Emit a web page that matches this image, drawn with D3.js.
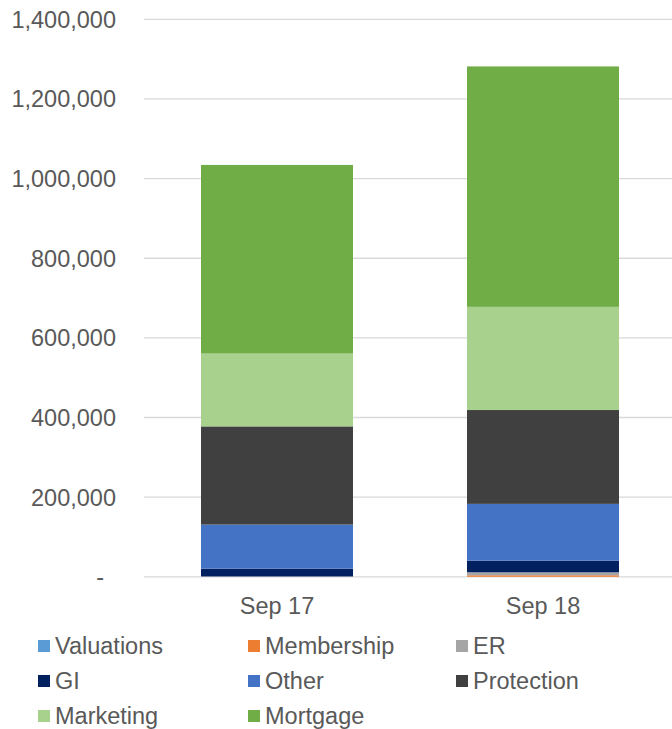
<!DOCTYPE html>
<html>
<head>
<meta charset="utf-8">
<script src="https://cdn.jsdelivr.net/npm/d3@7"></script>
<style>
  html, body { margin: 0; padding: 0; background: #fff; }
  svg { display: block; }
  text { font-family: "Liberation Sans", Arial, sans-serif; fill: #595959; }
</style>
</head>
<body>
<svg id="chart" width="672" height="729"></svg>
<script>
const categories = ["Sep 17", "Sep 18"];
const seriesNames = ["Valuations", "Membership", "ER", "GI", "Other", "Protection", "Marketing", "Mortgage"];
const valuations = [0, 0];
const membership = [0, 3800];
const er = [1000, 7500];
const gi = [19400, 29200];
const other = [110700, 142600];
const protection = [246600, 235700];
const marketing = [182900, 259100];
const mortgage = [473700, 603800];
const colors = ["#5B9BD5", "#ED7D31", "#A5A5A5", "#002060", "#4472C4", "#404040", "#A9D18E", "#70AD47"];
const yTicks = [0, 200000, 400000, 600000, 800000, 1000000, 1200000, 1400000];

const seriesValues = [valuations, membership, er, gi, other, protection, marketing, mortgage];
const table = categories.map((c, i) => {
  const row = { category: c };
  seriesNames.forEach((s, j) => row[s] = seriesValues[j][i]);
  return row;
});

const svg = d3.select("#chart");
const plot = { left: 144, right: 676, top: 19.3, bottom: 576.8 };
const fontSize = 23.5;

const x = d3.scaleBand().domain(categories).range([plot.left, plot.right])
  .paddingInner(0.4286).paddingOuter(0.2143);
const y = d3.scaleLinear().domain([0, 1400000]).range([plot.bottom, plot.top]);

// gridlines
svg.append("g").selectAll("line").data(yTicks).join("line")
  .attr("x1", plot.left).attr("x2", 672)
  .attr("y1", d => y(d)).attr("y2", d => y(d))
  .attr("stroke", "#d9d9d9").attr("stroke-width", 1.3);

// y labels
const fmt = d3.format(",");
svg.append("g").selectAll("text").data(yTicks).join("text")
  .attr("x", d => d === 0 ? 104 : 116)
  .attr("y", d => y(d))
  .attr("dy", "0.36em")
  .attr("text-anchor", "end")
  .attr("font-size", fontSize)
  .text(d => d === 0 ? "-" : fmt(d));

// stacked bars
const stack = d3.stack().keys(seriesNames)(table);
svg.append("g").selectAll("g").data(stack).join("g")
  .attr("fill", (d, i) => colors[i])
  .selectAll("rect").data(d => d).join("rect")
  .attr("x", d => x(d.data.category))
  .attr("width", x.bandwidth())
  .attr("y", d => y(d[1]))
  .attr("height", d => Math.max(0, y(d[0]) - y(d[1])));

// category labels
svg.append("g").selectAll("text").data(categories).join("text")
  .attr("x", d => x(d) + x.bandwidth() / 2)
  .attr("y", 614)
  .attr("text-anchor", "middle")
  .attr("font-size", fontSize)
  .text(d => d);

// legend
const colX = [38, 248, 456];
const rowY = [646, 681, 716];
const legend = svg.append("g").selectAll("g").data(seriesNames).join("g")
  .attr("transform", (d, i) => `translate(${colX[i % 3]},${rowY[Math.floor(i / 3)]})`);
legend.append("rect")
  .attr("x", 0).attr("y", -6).attr("width", 12).attr("height", 12)
  .attr("fill", (d, i) => colors[i]);
legend.append("text")
  .attr("x", 17).attr("y", 0).attr("dy", "0.36em")
  .attr("font-size", fontSize)
  .text(d => d);
</script>
</body>
</html>
